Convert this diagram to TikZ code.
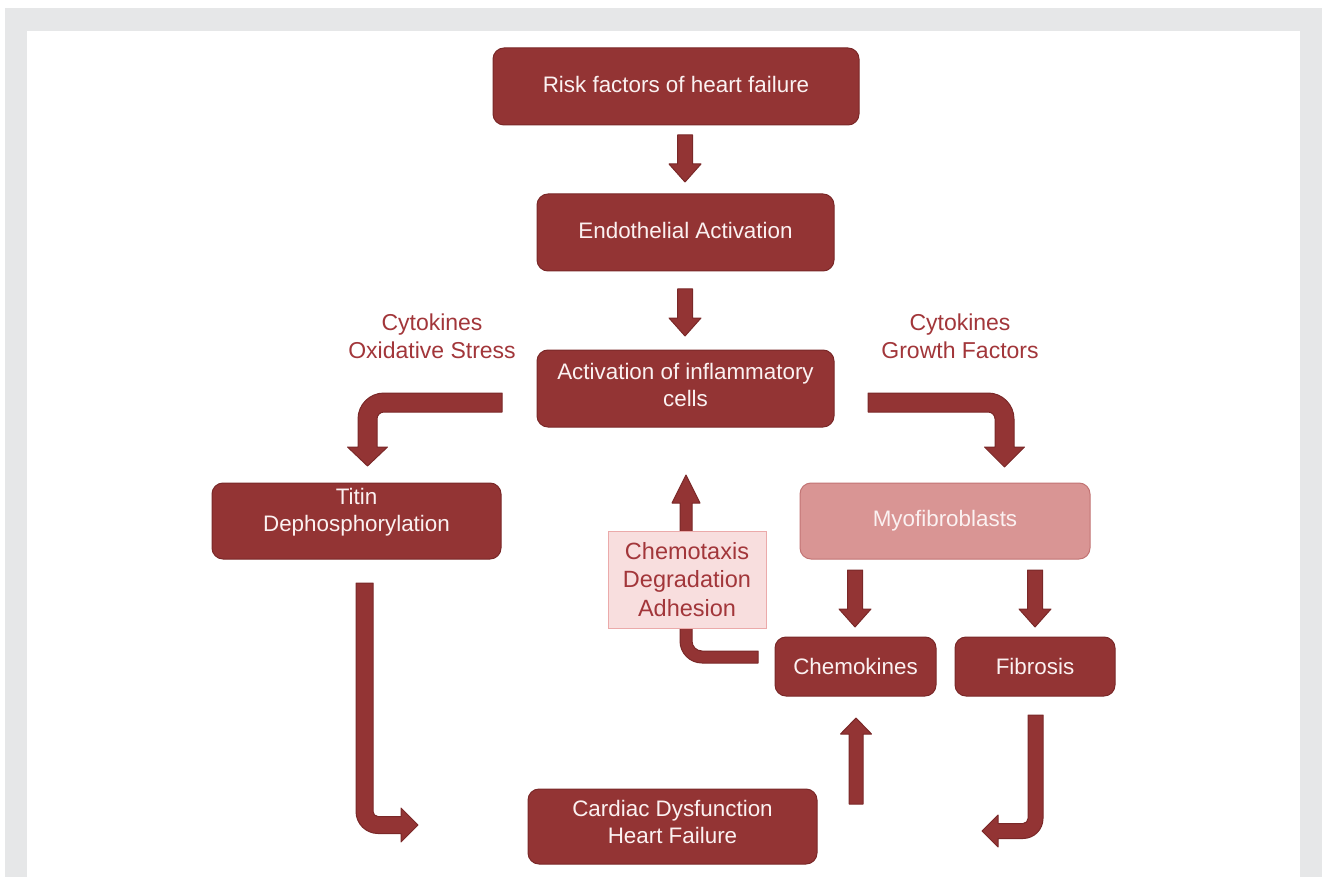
\documentclass[tikz,border=0pt]{standalone}
\usepackage{fontspec}
\setmainfont{Liberation Sans}
\definecolor{framegray}{HTML}{E6E7E8}
\definecolor{boxfill}{HTML}{933434}
\definecolor{boxline}{HTML}{7A2828}
\definecolor{lightfill}{HTML}{D99594}
\definecolor{lightline}{HTML}{C27474}
\definecolor{palefill}{HTML}{F8DEDE}
\definecolor{paleline}{HTML}{EBAAAA}
\definecolor{labeltext}{HTML}{A2363A}
\definecolor{boxtext}{HTML}{FBF1F1}
\tikzset{
  box/.style={draw=boxline, fill=boxfill, line width=1pt, rounded corners=11pt,
    text=boxtext, font=\fontsize{22.4}{27}\selectfont, align=center, inner sep=0pt},
  lightbox/.style={box, draw=lightline, fill=lightfill},
  palebox/.style={draw=paleline, fill=palefill, line width=1pt, text=labeltext,
    font=\fontsize{23.5}{28.5}\selectfont, align=center, inner sep=0pt},
  sidelabel/.style={text=labeltext, font=\fontsize{23}{28}\selectfont, align=center, inner sep=0pt},
  blk/.style={fill=boxfill, draw=boxline, line width=1pt, line join=round}
}
\newcommand\blockdown[3]{\draw[blk] (#1-7.5,#2) -- (#1+7.5,#2) -- (#1+7.5,#3-18) -- (#1+16,#3-18) -- (#1,#3) -- (#1-16,#3-18) -- (#1-7.5,#3-18) -- cycle;}
\newcommand\blockup[3]{\draw[blk] (#1-7,#2) -- (#1+7,#2) -- (#1+7,#3+16) -- (#1+15.5,#3+16) -- (#1,#3) -- (#1-15.5,#3+16) -- (#1-7,#3+16) -- cycle;}
\begin{document}
\begin{tikzpicture}[x=1pt,y=-1pt]
\useasboundingbox (0,0) rectangle (1322,877);
% frame
\fill[framegray] (5,8) rectangle (1322,877);
\fill[white] (27,31) rectangle (1300,877);

% boxes
\node[box, minimum width=366, minimum height=77] (risk) at (676,86.5) {Risk factors of heart failure\rule[-4pt]{0pt}{0pt}};
\node[box, minimum width=297, minimum height=77] (endo) at (685.5,232.5) {Endothelial Activation\rule[-4pt]{0pt}{0pt}};
\node[box, minimum width=297, minimum height=77] (act) at (685.5,388.5) {Activation of inflammatory\\cells\rule[-8pt]{0pt}{0pt}};
\node[box, minimum width=289, minimum height=76] (titin) at (356.5,521) {Titin\\Dephosphorylation\rule[-23pt]{0pt}{0pt}};
\node[lightbox, minimum width=290, minimum height=76] (myo) at (945,521) {Myofibroblasts};
\node[box, minimum width=161, minimum height=59] (chemo) at (855.5,666.5) {Chemokines};
\node[box, minimum width=160, minimum height=59] (fibro) at (1035,666.5) {Fibrosis};
\node[box, minimum width=289, minimum height=75] (cardiac) at (672.5,826.5) {Cardiac Dysfunction\\Heart Failure\rule[-10pt]{0pt}{0pt}};

% side labels
\node[sidelabel] (lab1) at (432,336) {Cytokines\\Oxidative Stress};
\node[sidelabel] (lab2) at (960,336) {Cytokines\\Growth Factors};

% straight block arrows
\blockdown{685}{135}{182}
\blockdown{685}{289}{336}
\blockdown{855}{570}{627}
\blockdown{1035}{570}{627}
\blockup{856}{804}{718}

% bent arrow: activation -> titin
\draw[blk] (502,393) -- (384,393) arc[start angle=270,end angle=180,radius=26]
  -- (358,447) -- (347.5,447) -- (367.5,466) -- (387.5,447) -- (377,447)
  -- (377,419) arc[start angle=180,end angle=270,radius=7] -- (502,412) -- cycle;
% bent arrow: activation -> myofibroblasts
\draw[blk] (868,393) -- (988,393) arc[start angle=270,end angle=360,radius=26]
  -- (1014,447) -- (1024.5,447) -- (1004.5,467) -- (984.5,447) -- (995,447)
  -- (995,419) arc[start angle=0,end angle=-90,radius=7] -- (868,412) -- cycle;
% long arrow: titin -> cardiac
\draw[blk] (356,583) -- (373,583) -- (373,811.5) arc[start angle=180,end angle=90,radius=5]
  -- (401,816.5) -- (401,808) -- (418,825) -- (401,842) -- (401,833.5)
  -- (378,833.5) arc[start angle=90,end angle=180,radius=22] -- cycle;
% arrow: fibrosis -> cardiac
\draw[blk] (1028,715) -- (1043,715) -- (1043,818.5) arc[start angle=0,end angle=90,radius=20]
  -- (998,838.5) -- (998,847) -- (982,831) -- (998,815) -- (998,823.5)
  -- (1023,823.5) arc[start angle=90,end angle=0,radius=5] -- cycle;
% arrow: chemokines -> activation
\draw[blk] (680,503) -- (672,503) -- (686,475) -- (700,503) -- (692,503)
  -- (692,641) arc[start angle=180,end angle=90,radius=10] -- (758,651) -- (758,663)
  -- (702,663) arc[start angle=90,end angle=180,radius=22] -- cycle;

% chemotaxis box over the arrow
\node[palebox, minimum width=158, minimum height=97] (chemotax) at (687,579.5) {Chemotaxis\\Degradation\\Adhesion};
\end{tikzpicture}
\end{document}
